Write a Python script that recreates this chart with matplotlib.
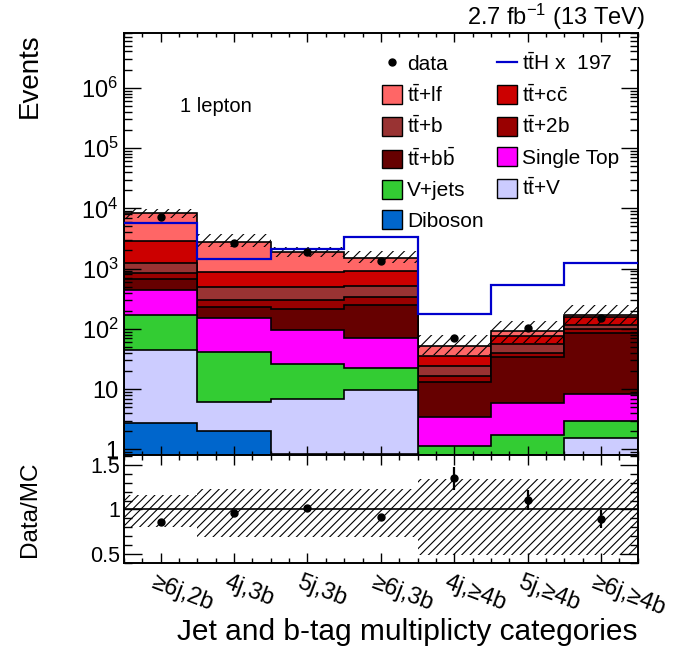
import numpy as np
import matplotlib.pyplot as plt
import matplotlib.transforms as mtransforms
from matplotlib.ticker import FixedLocator, FixedFormatter, MultipleLocator, LogLocator, NullFormatter
from matplotlib.lines import Line2D
from matplotlib.patches import Patch

plt.rcParams['font.family'] = ['Liberation Sans', 'DejaVu Sans']
plt.rcParams['mathtext.fontset'] = 'custom'
plt.rcParams['mathtext.rm'] = 'Liberation Sans'
plt.rcParams['mathtext.it'] = 'Liberation Sans:italic'
plt.rcParams['mathtext.bf'] = 'Liberation Sans:bold'
plt.rcParams['hatch.linewidth'] = 0.8

# === Kategorien (Jet- und b-Tag-Multiplizitaet) ===
categories = ['≥6j,2b', '4j,3b', '5j,3b', '≥6j,3b', '4j,≥4b', '5j,≥4b', '≥6j,≥4b']

# === Untergrundbeitraege pro Kategorie (Ereignisse), von unten nach oben gestapelt ===
diboson    = [2.7, 2.05, 0.85, 0.85, 0.0, 0.0, 0.0]
ttv        = [42.0, 4.15, 6.05, 8.85, 0.4, 0.5, 1.57]
vjets      = [125.3, 34.7, 19.0, 12.5, 0.74, 1.24, 1.40]
single_top = [272.0, 109.0, 69.1, 47.6, 2.36, 4.06, 5.23]
ttbb       = [231.0, 78.0, 119.0, 179.2, 9.8, 28.8, 76.3]
tt2b       = [162.0, 73.0, 87.0, 93.0, 3.3, 5.7, 13.9]
ttb        = [390.0, 200.0, 188.0, 172.0, 7.7, 15.3, 17.6]
ttcc       = [1675.0, 368.0, 401.0, 398.0, 11.7, 21.5, 39.6]
ttlf       = [5360.0, 1921.0, 972.0, 571.0, 16.6, 16.3, 14.4]

# === Signal (ttH), skaliert ===
tth = [29.3, 7.24, 10.7, 16.75, 0.91, 2.68, 6.36]
tth_scale = 197

# === Daten ===
data     = [7080.0, 2665.0, 1890.0, 1350.0, 71.0, 103.0, 152.0]
data_err = [84.0, 52.0, 43.0, 37.0, 6.8, 10.3, 17.0]

# === Relative Unsicherheiten (Stapel oben, Band im Verhaeltnis unten) ===
stack_unc_up = [0.17, 0.33, 0.24, 0.32, 0.50, 0.46, 0.46]
stack_unc_dn = [0.16, 0.17, 0.16, 0.16, 0.30, 0.38, 0.32]
ratio_unc_up = [0.165, 0.233, 0.233, 0.233, 0.337, 0.337, 0.337]
ratio_unc_dn = [0.20, 0.311, 0.311, 0.311, 0.51, 0.51, 0.51]

# Reihenfolge im Stapel (unten -> oben): (Werte, Farbe, Legendentext)
components = [
    (diboson, '#0066cc', 'Diboson'),
    (ttv, '#ccccff', r'$\mathrm{t\bar{t}}$+V'),
    (vjets, '#33cc33', 'V+jets'),
    (single_top, '#ff00ff', 'Single Top'),
    (ttbb, '#660000', r'$\mathrm{t\bar{t}}$+$\mathrm{b\bar{b}}$'),
    (tt2b, '#990000', r'$\mathrm{t\bar{t}}$+2b'),
    (ttb, '#993333', r'$\mathrm{t\bar{t}}$+b'),
    (ttcc, '#cc0000', r'$\mathrm{t\bar{t}}$+$\mathrm{c\bar{c}}$'),
    (ttlf, '#ff6666', r'$\mathrm{t\bar{t}}$+lf'),
]

W, H = 676, 655
fig = plt.figure(figsize=(W / 100, H / 100), dpi=100)
x_left, x_right = 124, 637.7
ax = fig.add_axes([x_left / W, 1 - 455 / H, (x_right - x_left) / W, (455 - 32.7) / H])
axr = fig.add_axes([x_left / W, 1 - 563 / H, (x_right - x_left) / W, (563 - 455) / H])

edges = np.arange(len(categories) + 1)
centers = edges[:-1] + 0.5

# kumulierte Stapel berechnen
tops = []
cum = np.zeros(len(categories))
for vals, col, lab in components:
    cum = cum + np.array(vals)
    tops.append(cum.copy())
total = cum

# Stapel von oben nach unten zeichnen, damit jede Kontur sichtbar bleibt
handles = {}
for (vals, col, lab), top in reversed(list(zip(components, tops))):
    ax.stairs(top, edges, baseline=0, fill=True, facecolor=col,
              edgecolor='black', linewidth=1.2, zorder=1)
    handles[lab] = Patch(facecolor=col, edgecolor='black', linewidth=1.0, label=lab)

# Unsicherheitsband auf dem Stapel
ax.stairs(total * (1 + np.array(stack_unc_up)), edges,
          baseline=total * (1 - np.array(stack_unc_dn)),
          fill=True, facecolor='none', edgecolor='black', hatch='///',
          linewidth=0, zorder=2)

# ttH-Signal als Linie
ax.stairs(np.array(tth) * tth_scale, edges, baseline=None,
          color='#0000cc', linewidth=1.6, zorder=3)

# Daten
ax.errorbar(centers, data, yerr=data_err, fmt='o', color='black',
            ms=5, elinewidth=1.2, capsize=0, zorder=4)

ax.set_yscale('log')
ax.set_xlim(0, len(categories))
ax.set_ylim(0.81, 8.2e6)
ax.yaxis.set_major_locator(FixedLocator([1, 10, 1e2, 1e3, 1e4, 1e5, 1e6]))
ax.yaxis.set_major_formatter(FixedFormatter(
    ['1', '10', r'$10^{2}$', r'$10^{3}$', r'$10^{4}$', r'$10^{5}$', r'$10^{6}$']))
ax.yaxis.set_minor_locator(LogLocator(base=10, subs=np.arange(2, 10), numticks=20))
ax.yaxis.set_minor_formatter(NullFormatter())

# === Verhaeltnis Daten / MC ===
ratio = np.array(data) / total
ratio_err = np.array(data_err) / total
axr.stairs(1 + np.array(ratio_unc_up), edges, baseline=1 - np.array(ratio_unc_dn),
           fill=True, facecolor='none', edgecolor='black', hatch='////',
           linewidth=0, zorder=1)
axr.axhline(1.0, color='black', linewidth=1.2, zorder=2)
axr.errorbar(centers, ratio, yerr=ratio_err, fmt='o', color='black',
             ms=5, elinewidth=1.6, capsize=0, zorder=3)
axr.set_xlim(0, len(categories))
axr.set_ylim(0.40, 1.61)
axr.yaxis.set_major_locator(FixedLocator([0.5, 1.0, 1.5]))
axr.yaxis.set_major_formatter(FixedFormatter(['0.5', '1', '1.5']))
axr.yaxis.set_minor_locator(MultipleLocator(0.1))

for a in (ax, axr):
    a.xaxis.set_major_locator(FixedLocator(centers))
    a.xaxis.set_minor_locator(MultipleLocator(0.25))
    a.tick_params(which='both', direction='in', top=True, right=True, width=1.0)
    for s in a.spines.values():
        s.set_linewidth(1.4)

ax.tick_params(axis='x', which='major', length=6.5, labelbottom=False)
ax.tick_params(axis='x', which='minor', length=3.2)
ax.tick_params(axis='y', which='major', length=12, labelsize=17, pad=4)
ax.tick_params(axis='y', which='minor', length=6)

axr.tick_params(axis='x', which='major', length=7, labelsize=17, pad=6)
axr.tick_params(axis='x', which='minor', length=3.5)
axr.tick_params(axis='y', which='major', length=13, labelsize=15.5, pad=3)
axr.tick_params(axis='y', which='minor', length=5.5)

axr.set_xticklabels(categories, rotation=-21, ha='left', va='top', rotation_mode='anchor')
shift = mtransforms.ScaledTranslation(-5 / 100, 0, fig.dpi_scale_trans)
for lab in axr.get_xticklabels():
    lab.set_transform(lab.get_transform() + shift)

# === Achsentitel und Beschriftungen ===
fig.text(30 / W, 1 - 33 / H, 'Events', rotation=90, ha='center', va='top', fontsize=20)
fig.text(30 / W, 1 - 509 / H, 'Data/MC', rotation=90, ha='center', va='center', fontsize=17.5)
fig.text(x_right / W, 1 - 632 / H, 'Jet and b-tag multiplicty categories',
         ha='right', va='center', fontsize=21.5)
fig.text(645 / W, 1 - 25 / H, r'2.7 fb$^{-1}$ (13 TeV)', ha='right', va='baseline', fontsize=17)
fig.text(180 / W, 1 - 111.5 / H, '1 lepton', ha='left', va='baseline', fontsize=14.5)

# === Legende (zwei Spalten) ===
data_handle = Line2D([], [], marker='o', linestyle='none', color='black', ms=5)
tth_handle = Line2D([], [], color='#0000cc', linewidth=1.6)
col1 = [(data_handle, 'data')] + [(handles[l], l) for l in
        [r'$\mathrm{t\bar{t}}$+lf', r'$\mathrm{t\bar{t}}$+b',
         r'$\mathrm{t\bar{t}}$+$\mathrm{b\bar{b}}$', 'V+jets', 'Diboson']]
col2 = [(tth_handle, r'$\mathrm{t\bar{t}}$H x  ' + str(tth_scale))] + [(handles[l], l) for l in
        [r'$\mathrm{t\bar{t}}$+$\mathrm{c\bar{c}}$', r'$\mathrm{t\bar{t}}$+2b',
         'Single Top', r'$\mathrm{t\bar{t}}$+V']]
entries = col1 + col2
ax.legend([h for h, _ in entries], [l for _, l in entries], ncol=2,
          loc='upper left', bbox_to_anchor=(382 / W, 1 - 52 / H),
          bbox_transform=fig.transFigure, frameon=False, fontsize=15,
          handlelength=0.95, handleheight=1.0, handletextpad=0.25,
          labelspacing=0.47, columnspacing=0.65, borderpad=0, borderaxespad=0)

fig.savefig('out.png', dpi=100)
